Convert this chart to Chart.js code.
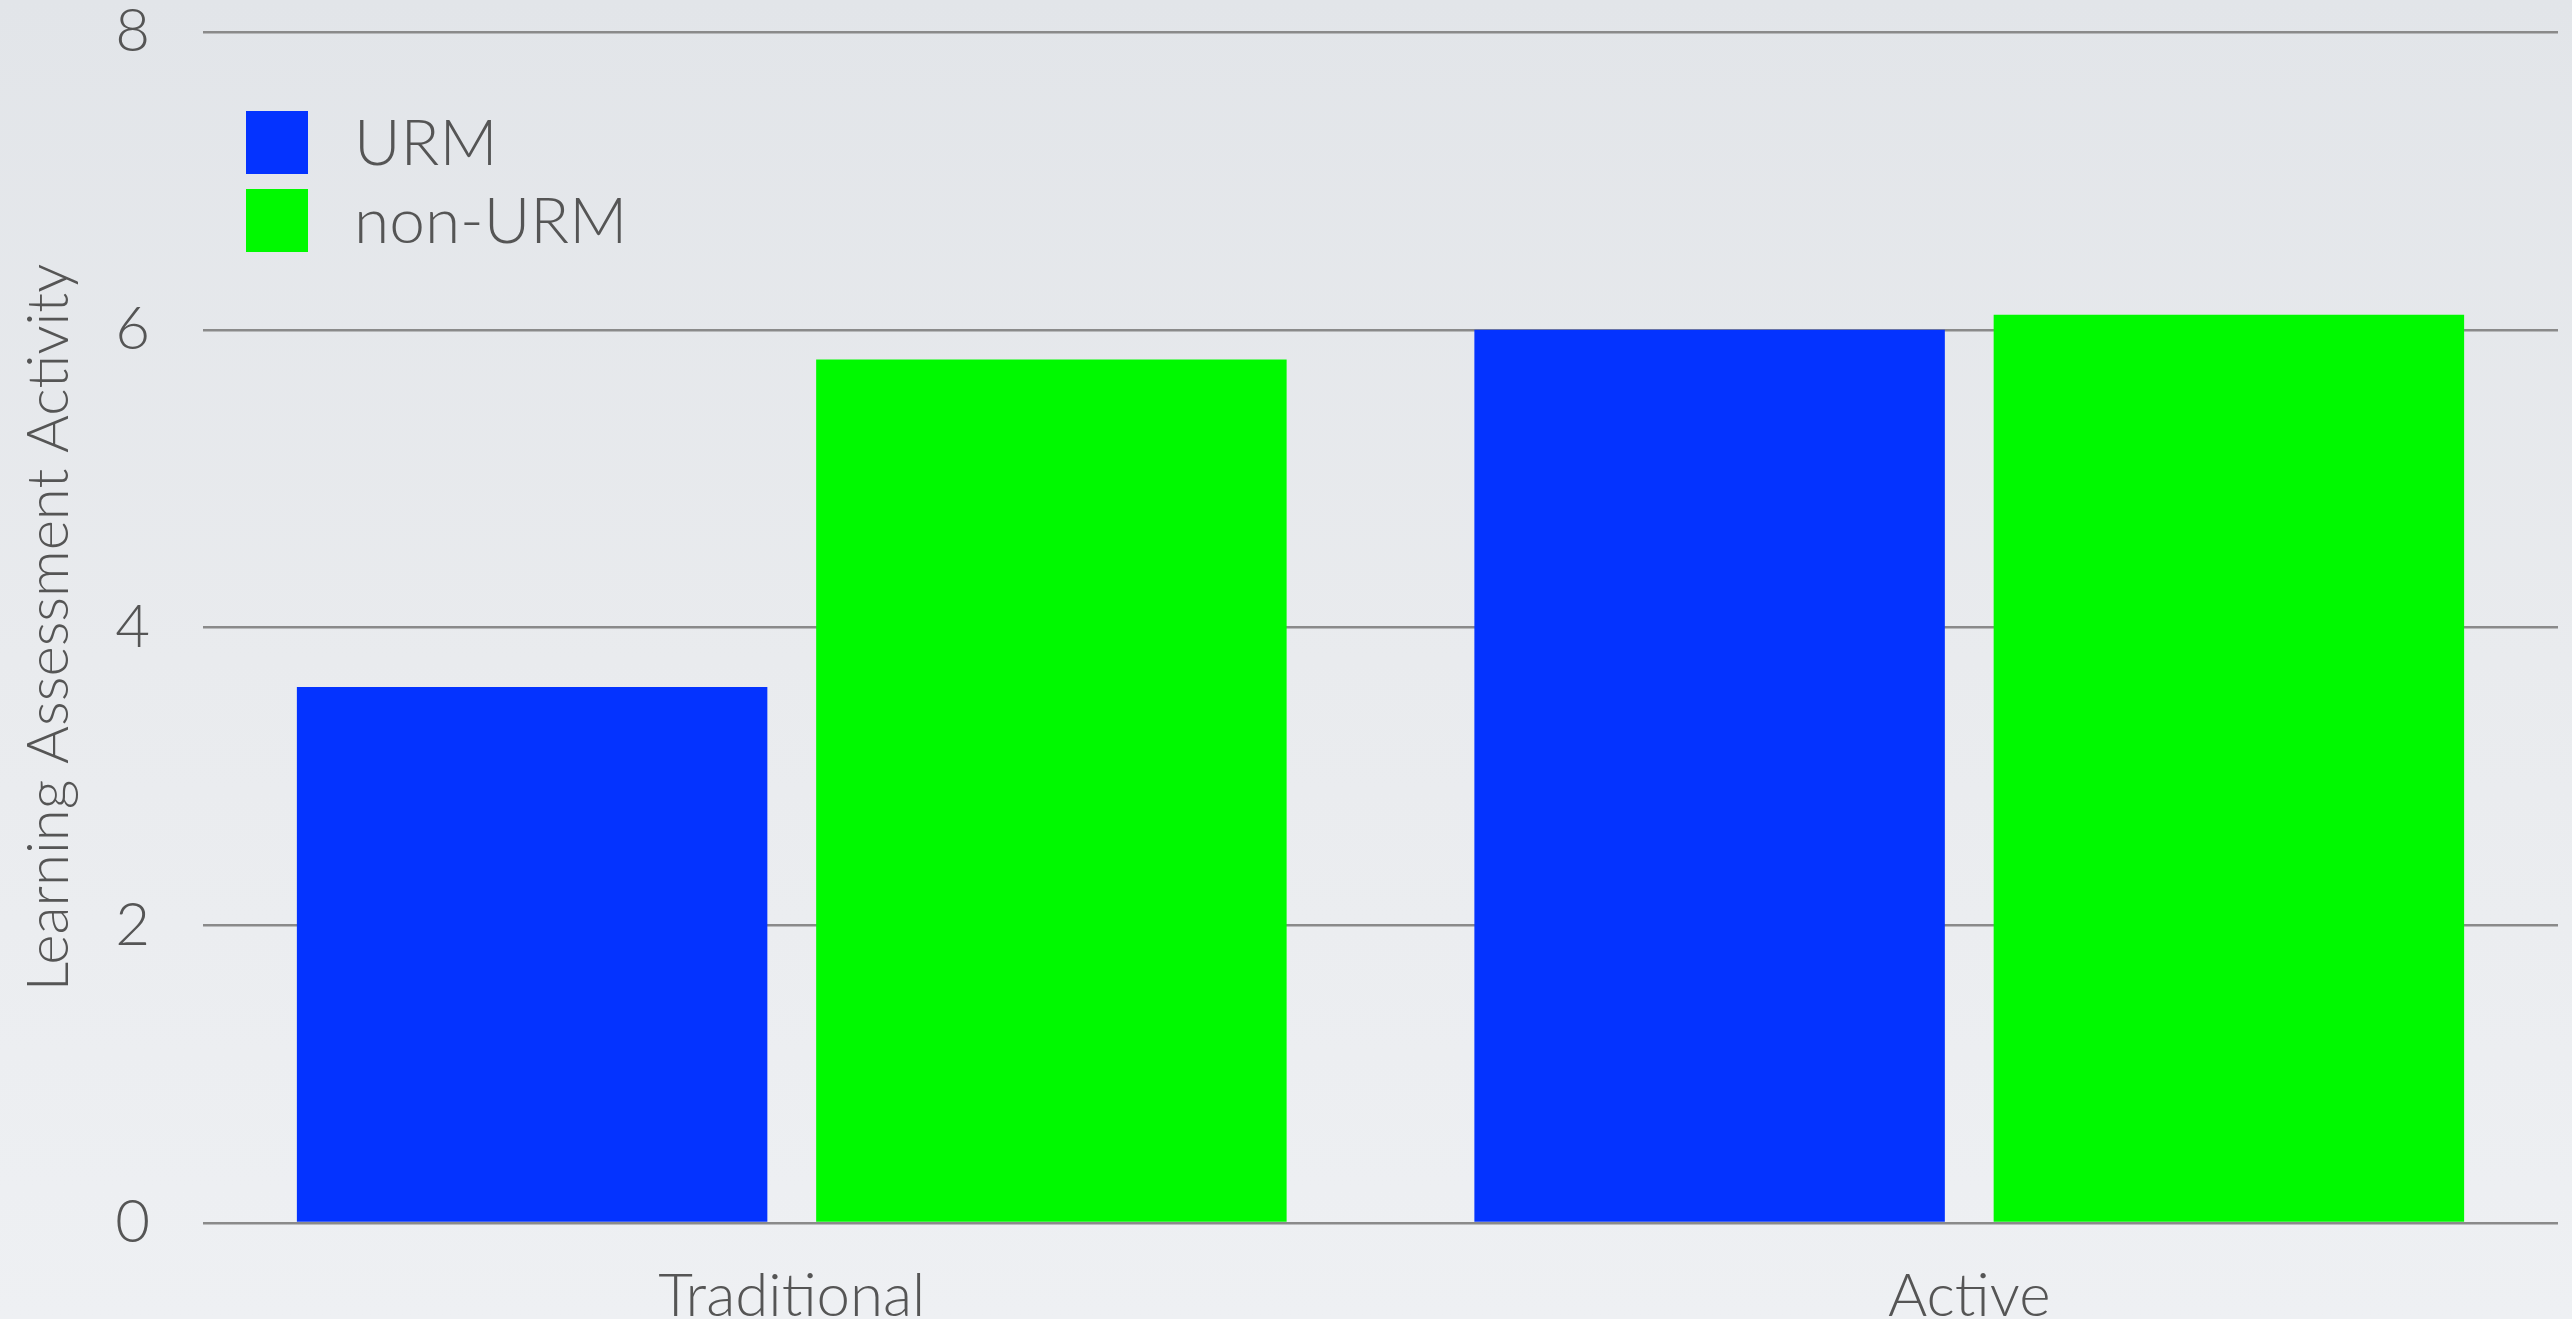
<!DOCTYPE html>
<html>
<head>
<meta charset="utf-8">
<script src="https://cdn.jsdelivr.net/npm/chart.js@4.4.1/dist/chart.umd.min.js"></script>
<style>
  html, body { margin: 0; padding: 0; width: 2572px; height: 1319px; overflow: hidden; }
  body { background: linear-gradient(180deg, #e2e5e9 0%, #e9ebee 50%, #eef0f3 100%); }
  #wrap { position: absolute; left: 0; top: 0; width: 2572px; height: 1319px; }
</style>
</head>
<body>
<div id="wrap"><canvas id="c" width="2572" height="1319"></canvas></div>
<script>
const categories = ["Traditional", "Active"];
const seriesNames = ["URM", "non-URM"];
const urmValues = [3.6, 6.0];
const nonUrmValues = [5.8, 6.1];
const seriesColors = ["#0433ff", "#00f900"];
const yTicks = [0, 2, 4, 6, 8];
const yTitle = "Learning Assessment Activity";

const FONT = "Lato, 'Open Sans', sans-serif";
const TEXT = "#555555";

const legendPlugin = {
  id: "insideLegend",
  afterDraw(chart) {
    const ctx = chart.ctx;
    const a = chart.chartArea;
    ctx.save();
    chart.data.datasets.forEach((ds, i) => {
      const x = a.left + 43;
      const y = a.top + 79 + i * 78;
      ctx.fillStyle = ds.backgroundColor;
      ctx.fillRect(x, y, 62, 63);
      ctx.fillStyle = TEXT;
      ctx.font = "300 64px " + FONT;
      ctx.textBaseline = "middle";
      ctx.textAlign = "left";
      ctx.fillText(ds.label, x + 108, y + 33);
    });
    ctx.restore();
  }
};

new Chart(document.getElementById("c"), {
  type: "bar",
  data: {
    labels: categories,
    datasets: [
      { label: seriesNames[0], data: urmValues, backgroundColor: seriesColors[0] },
      { label: seriesNames[1], data: nonUrmValues, backgroundColor: seriesColors[1] }
    ]
  },
  options: {
    responsive: false,
    animation: false,
    devicePixelRatio: 1,
    layout: { padding: { top: 32, right: 14, left: 0, bottom: 0 } },
    datasets: { bar: { categoryPercentage: 0.882, barPercentage: 0.906 } },
    plugins: { legend: { display: false }, tooltip: { enabled: false } },
    scales: {
      x: {
        grid: { display: false, drawTicks: false },
        border: { display: false },
        ticks: { color: TEXT, font: { family: FONT, size: 60, weight: 300 }, padding: 38 },
        afterFit(s) { s.height = 96; s.paddingLeft = 0; s.paddingRight = 0; }
      },
      y: {
        min: 0, max: 8,
        afterBuildTicks(s) { s.ticks = yTicks.map(v => ({ value: v })); },
        grid: { color: "#8a8a8a", lineWidth: 2.5, drawTicks: false },
        border: { display: false },
        ticks: { color: TEXT, font: { family: FONT, size: 60, weight: 300 }, padding: 53 },
        title: { display: true, text: yTitle, color: TEXT, font: { family: FONT, size: 58, weight: 300 }, padding: { top: 14, bottom: 0 } },
        afterFit(s) { s.width = 203; s.paddingTop = 0; s.paddingBottom = 0; }
      }
    }
  },
  plugins: [legendPlugin]
});
</script>
</body>
</html>
